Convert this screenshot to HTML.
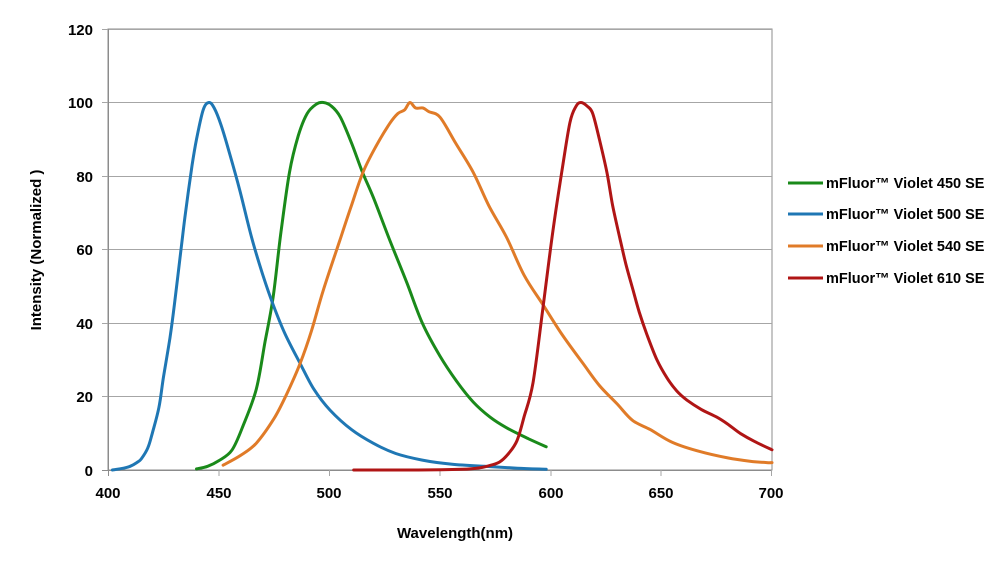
<!DOCTYPE html>
<html><head><meta charset="utf-8"><style>
body{margin:0;background:#fff;}
svg{display:block;font-family:"Liberation Sans",Arial,sans-serif;}
</style></head><body>
<svg id="s" width="1000" height="563" viewBox="0 0 1000 563">
<rect x="108" y="29" width="664" height="441" fill="#fff" stroke="#8c8c8c" stroke-width="1"/>
<g stroke="#a6a6a6" stroke-width="1">
<line x1="102" y1="29.5" x2="772" y2="29.5"/>
<line x1="102" y1="102.5" x2="772" y2="102.5"/>
<line x1="102" y1="176.5" x2="772" y2="176.5"/>
<line x1="102" y1="249.5" x2="772" y2="249.5"/>
<line x1="102" y1="323.5" x2="772" y2="323.5"/>
<line x1="102" y1="396.5" x2="772" y2="396.5"/>
<line x1="102" y1="470.5" x2="772" y2="470.5" stroke="#8c8c8c"/>
<line x1="108.5" y1="29" x2="108.5" y2="476" stroke="#8c8c8c"/>
<line x1="219" y1="470" x2="219" y2="476"/><line x1="329.5" y1="470" x2="329.5" y2="476"/>
<line x1="440" y1="470" x2="440" y2="476"/><line x1="551" y1="470" x2="551" y2="476"/>
<line x1="661" y1="470" x2="661" y2="476"/><line x1="771.5" y1="470" x2="771.5" y2="476"/>
</g>
<g font-size="15" font-weight="bold" fill="#000" text-anchor="end">
<text x="93" y="35">120</text><text x="93" y="108">100</text><text x="93" y="182">80</text>
<text x="93" y="255">60</text><text x="93" y="329">40</text><text x="93" y="402">20</text><text x="93" y="476">0</text>
</g>
<g font-size="15" font-weight="bold" fill="#000" text-anchor="middle">
<text x="108" y="498">400</text><text x="219" y="498">450</text><text x="329" y="498">500</text>
<text x="440" y="498">550</text><text x="551" y="498">600</text><text x="661" y="498">650</text><text x="771" y="498">700</text>
<text x="455" y="538" font-size="15">Wavelength(nm)</text>
<text transform="translate(41,250) rotate(-90)" font-size="15">Intensity (Normalized )</text>
</g>
<g id="curves" fill="none" stroke-width="3" stroke-linejoin="round" stroke-linecap="round"></g>
<g stroke-width="3">
<line x1="788" y1="183" x2="823" y2="183" stroke="#1a8a1a"/>
<line x1="788" y1="214" x2="823" y2="214" stroke="#1f77b4"/>
<line x1="788" y1="246" x2="823" y2="246" stroke="#e07b28"/>
<line x1="788" y1="278" x2="823" y2="278" stroke="#b01515"/>
</g>
<g font-size="14.5" font-weight="bold" fill="#000">
<text x="826" y="188">mFluor™ Violet 450 SE</text>
<text x="826" y="219">mFluor™ Violet 500 SE</text>
<text x="826" y="251">mFluor™ Violet 540 SE</text>
<text x="826" y="283">mFluor™ Violet 610 SE</text>
</g>
</svg>
<script>
var X=function(n){return 108+(n-400)*664/300;},Y=function(v){return 470-v*3.675;};
var data={
"#1a8a1a":[[440,0.3],[445,1],[450,2.5],[456,5.4],[461,12],[467,22],[471,35],[474.6,47],[478,64],[482,81],[486,91],[490,97],[494,99.5],[497.3,100],[501,99],[505,96],[510,89],[515,81],[520,74],[527,63],[535,51],[542,40],[550,31],[557.7,24],[565,18.5],[572.6,14.4],[580,11.5],[590,8.5],[598,6.3]],
"#1f77b4":[[402,0],[407,0.5],[410,1],[413,2],[415,3],[418,6],[420,10],[423,17],[425,25],[428,36],[430,45],[433,60],[435,70],[438,83],[440,90],[443,98],[445.6,100],[448,98.5],[451,94],[455,86],[459.6,76],[465,63],[470,53],[474.6,45],[480,37],[486.8,29],[493,22],[500.3,16.3],[510,11],[519.8,7.3],[530,4.5],[542,2.7],[555,1.6],[570,1],[585,0.5],[598,0.2]],
"#e07b28":[[452,1.3],[460,4],[467,7.3],[475,14],[481,21],[486.8,29],[492,38],[497.3,49],[504.8,62.6],[510,72],[515.2,81],[521,88],[527.4,94.4],[531,97],[534,98],[536.4,100],[539,98.5],[542.3,98.5],[545,97.5],[550,96],[557,89],[565,81],[572,72],[580,63.4],[588,53],[596.5,45],[605,37],[614.6,29],[622,23],[630,18],[637,13.5],[645,11],[655,7.5],[667.5,5],[680,3.3],[690,2.4],[697.7,2],[700,2]],
"#b01515":[[511,0],[540,0],[560,0.2],[568,0.6],[573,1.3],[577,2.2],[581,4.5],[584.8,8],[588,14.5],[592,23.7],[596.5,44],[601,65],[605,81],[608.7,94.5],[611.5,99],[613.7,100],[616.5,99],[619,97],[622,90],[625.4,81],[628,72],[631.3,63],[634,56],[637.2,49],[640,43],[643.4,37],[648,30],[652.6,25],[657,21.5],[661.6,19],[668,16.5],[675,14.4],[680,12.5],[685.6,10],[692,7.8],[700,5.5]]
};
var g=document.getElementById("curves");
for(var c in data){
var P=data[c].map(function(d){return [X(d[0]),Y(d[1])];});
var s="M"+P[0][0].toFixed(1)+","+P[0][1].toFixed(1);
for(var i=0;i<P.length-1;i++){
var p0=P[i>0?i-1:0],p1=P[i],p2=P[i+1],p3=P[i+2<P.length?i+2:i+1];
var c1x=p1[0]+(p2[0]-p0[0])/6,c1y=p1[1]+(p2[1]-p0[1])/6,c2x=p2[0]-(p3[0]-p1[0])/6,c2y=p2[1]-(p3[1]-p1[1])/6;
s+=" C"+c1x.toFixed(1)+","+c1y.toFixed(1)+" "+c2x.toFixed(1)+","+c2y.toFixed(1)+" "+p2[0].toFixed(1)+","+p2[1].toFixed(1);}
var p=document.createElementNS("http://www.w3.org/2000/svg","path");
p.setAttribute("d",s);p.setAttribute("stroke",c);g.appendChild(p);}
</script>
</body></html>
